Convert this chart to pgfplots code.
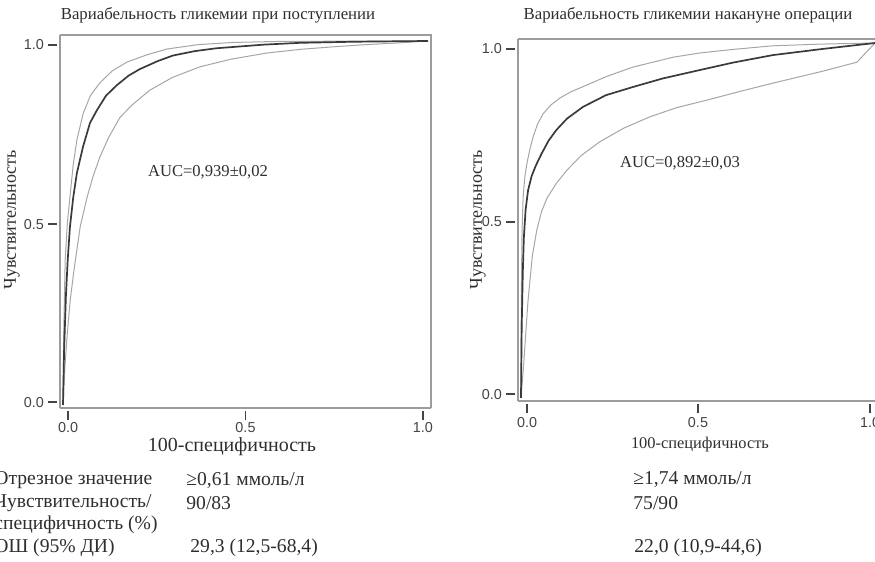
\documentclass[border=0pt]{standalone}
\usepackage{fontspec}
\setmainfont{Liberation Serif}
\newfontfamily\tsf{Liberation Sans}
\usepackage{pgfplots}
\pgfplotsset{compat=1.18}
\definecolor{txt}{HTML}{2E2E2E}
\definecolor{boxc}{HTML}{9C9C9C}
\definecolor{ci}{HTML}{A6A6A6}
\definecolor{mainc}{HTML}{3A3A3A}
\definecolor{tickc}{HTML}{444444}

\pgfplotstableread{
x y
0 0
0.003 0.15
0.008 0.30
0.013 0.40
0.019 0.489
0.028 0.57
0.038 0.637
0.055 0.71
0.074 0.775
0.093 0.81
0.118 0.85
0.148 0.879
0.18 0.905
0.211 0.923
0.26 0.945
0.301 0.96
0.36 0.972
0.42 0.98
0.485 0.985
0.55 0.99
0.65 0.995
0.8 0.998
1 1
}\LeftMain
\pgfplotstableread{
x y
0 0
0.002 0.20
0.006 0.40
0.012 0.50
0.019 0.571
0.028 0.66
0.038 0.728
0.055 0.80
0.075 0.85
0.101 0.885
0.135 0.918
0.175 0.942
0.23 0.962
0.285 0.978
0.37 0.99
0.466 0.996
0.6 0.999
1 1
}\LeftUp
\pgfplotstableread{
x y
0 0
0.005 0.10
0.012 0.20
0.020 0.29
0.030 0.37
0.047 0.489
0.066 0.571
0.083 0.63
0.101 0.681
0.125 0.735
0.156 0.79
0.19 0.825
0.238 0.865
0.30 0.90
0.375 0.929
0.46 0.95
0.559 0.967
0.65 0.977
0.74 0.984
0.83 0.99
0.923 0.995
1 1
}\LeftLow
\pgfplotstableread{
x y
0 0
0.002 0.20
0.005 0.35
0.008 0.45
0.013 0.53
0.020 0.585
0.030 0.625
0.042 0.655
0.058 0.688
0.078 0.725
0.10 0.755
0.13 0.787
0.175 0.82
0.24 0.853
0.316 0.876
0.40 0.90
0.506 0.924
0.60 0.945
0.712 0.966
0.85 0.983
1 1
}\RightMain
\pgfplotstableread{
x y
0 0
0.001 0.30
0.003 0.47
0.006 0.566
0.011 0.625
0.017 0.662
0.025 0.70
0.034 0.735
0.047 0.772
0.062 0.800
0.085 0.826
0.11 0.845
0.14 0.862
0.175 0.877
0.24 0.905
0.316 0.932
0.43 0.96
0.506 0.972
0.60 0.982
0.71 0.992
0.85 0.997
1 1
}\RightUp
\pgfplotstableread{
x y
0 0
0.008 0.10
0.014 0.19
0.020 0.276
0.032 0.40
0.045 0.475
0.058 0.525
0.073 0.562
0.10 0.605
0.13 0.642
0.17 0.683
0.223 0.722
0.29 0.76
0.364 0.792
0.44 0.818
0.525 0.839
0.62 0.864
0.712 0.887
0.85 0.92
0.949 0.946
1 1
}\RightLow

\pgfplotsset{
  rocax/.style={
    scale only axis,
    axis line style={boxc, line width=0.7pt},
    tick align=outside,
    major tick length=4.5pt,
    xtick style={tickc, line width=0.9pt, yshift=-1.5pt},
    ytick style={tickc, line width=0.9pt, xshift=-1.5pt},
    xticklabels={0.0,0.5,1.0},
    yticklabels={0.0,0.5,1.0},
    tick label style={font=\tsf\fontsize{7.2}{8}\selectfont, text=tickc},
    axis x line*=bottom, axis y line*=left,
    clip=false,
  },
  ciline/.style={ci, line width=0.5pt, no marks},
  mainline/.style={mainc, line width=0.85pt, no marks},
}

\begin{document}
\begin{tikzpicture}[x=0.5pt, y=0.5pt]
\color{txt}
% left panel
\begin{axis}[rocax, at={(30pt,77pt)}, anchor=south west,
  width=185.5pt, height=186.5pt,
  xmin=-0.00822, xmax=1.00822, ymin=-0.00824, ymax=1.01648,
  xtick={0.014,0.5,0.986}, ytick={0.008,0.497,0.989},
  xticklabel style={yshift=1pt}]
  \draw[boxc, line width=0.7pt] (rel axis cs:0,1) -- (rel axis cs:1,1) -- (rel axis cs:1,0);
  \addplot[ciline] table {\LeftUp};
  \addplot[ciline] table {\LeftLow};
  \addplot[mainline] table {\LeftMain};
\end{axis}
% right panel
\begin{axis}[rocax, at={(259pt,80.5pt)}, anchor=south west,
  width=180.5pt, height=181pt,
  xmin=-0.00847, xmax=1.0113, ymin=-0.00845, ymax=1.01127,
  xtick={0.017,0.5,0.986}, ytick={0.011,0.496,0.983}]
  \draw[boxc, line width=0.7pt] (rel axis cs:0,1) -- (rel axis cs:1,1) -- (rel axis cs:1,0);
  \addplot[ciline] table {\RightUp};
  \addplot[ciline] table {\RightLow};
  \addplot[mainline] table {\RightMain};
\end{axis}

% titles
\node[font=\fontsize{8.4}{10}\selectfont] at (218,547) {Вариабельность гликемии при поступлении};
\node[font=\fontsize{8.4}{10}\selectfont] at (688,547) {Вариабельность гликемии накануне операции};
% y labels
\node[font=\fontsize{9}{10}\selectfont, rotate=90] at (12,342) {Чувствительность};
\node[font=\fontsize{9}{10}\selectfont, rotate=90] at (478,342) {Чувствительность};
% x labels
\node[font=\fontsize{10}{11}\selectfont] at (232,115) {100-специфичность};
\node[font=\fontsize{8.2}{10}\selectfont] at (700,117) {100-специфичность};
% AUC
\node[font=\fontsize{8.3}{10}\selectfont] at (208,390) {AUC=0,939±0,02};
\node[font=\fontsize{8.3}{10}\selectfont] at (680,399) {AUC=0,892±0,03};

% table text below
\begin{scope}[every node/.style={font=\fontsize{9.8}{11}\selectfont, anchor=west, inner sep=0pt}]
\node at (-6,82) {Отрезное значение};
\node at (-6,59) {Чувствительность/};
\node at (-6,37) {специфичность (\%)};
\node at (-6,14) {ОШ (95\% ДИ)};
\node at (186,82) {≥0,61 ммоль/л};
\node at (186,59) {90/83};
\node at (190,14) {29,3 (12,5-68,4)};
\node at (633,82) {≥1,74 ммоль/л};
\node at (633,59) {75/90};
\node at (634,14) {22,0 (10,9-44,6)};
\end{scope}

\pgfresetboundingbox
\useasboundingbox (0,0) rectangle (875,562);
\end{tikzpicture}
\end{document}
